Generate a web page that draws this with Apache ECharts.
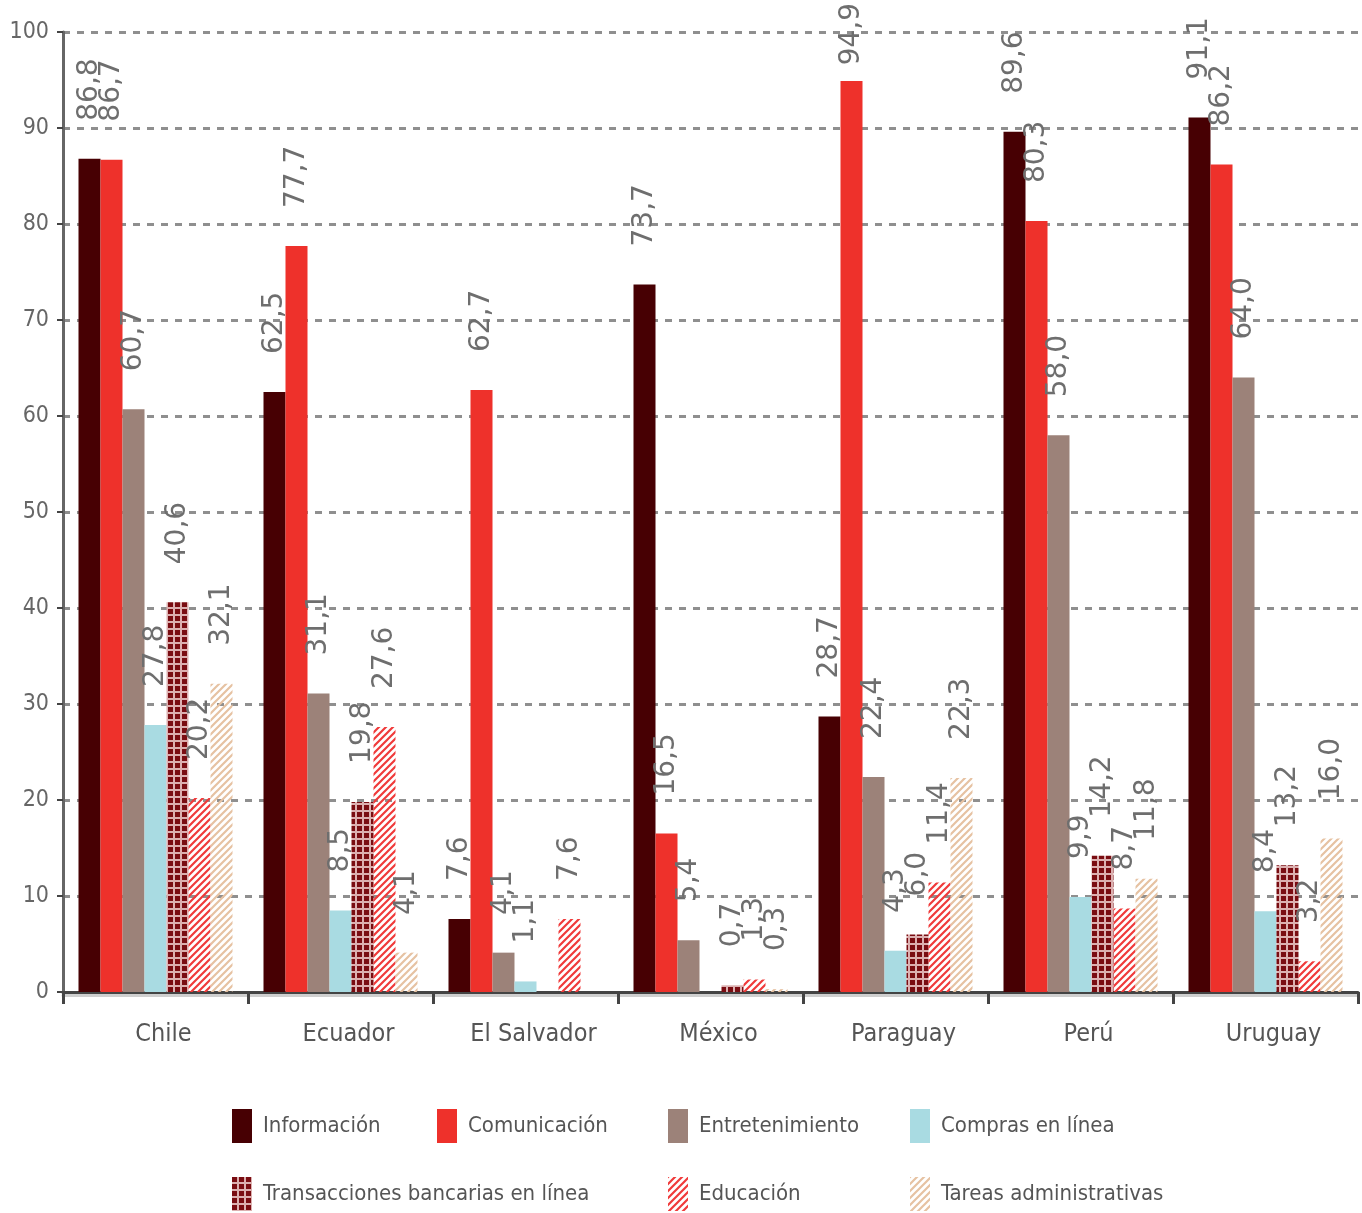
<!DOCTYPE html>
<html><head><meta charset="utf-8">
<script src="https://cdn.jsdelivr.net/npm/echarts@6/dist/echarts.min.js"></script>
<style>html,body{margin:0;padding:0;background:#fff}#c{width:1362px;height:1213px}</style>
</head><body><div id="c"></div>
<script>
const categories = ['Chile', 'Ecuador', 'El Salvador', 'México', 'Paraguay', 'Perú', 'Uruguay'];
const seriesNames = ['Información', 'Comunicación', 'Entretenimiento', 'Compras en línea',
  'Transacciones bancarias en línea', 'Educación', 'Tareas administrativas'];
const informacion     = [86.8, 62.5, 7.6, 73.7, 28.7, 89.6, 91.1];
const comunicacion    = [86.7, 77.7, 62.7, 16.5, 94.9, 80.3, 86.2];
const entretenimiento = [60.7, 31.1, 4.1, 5.4, 22.4, 58.0, 64.0];
const compras         = [27.8, 8.5, 1.1, null, 4.3, 9.9, 8.4];
const transacciones   = [40.6, 19.8, null, 0.7, 6.0, 14.2, 13.2];
const educacion       = [20.2, 27.6, 7.6, 1.3, 11.4, 8.7, 3.2];
const tareas          = [32.1, 4.1, null, 0.3, 22.3, 11.8, 16.0];
const yMin = 0, yMax = 100, yStep = 10;

function tile(size, draw) {
  const c = document.createElement('canvas'); c.width = c.height = size;
  draw(c.getContext('2d'), size); return c;
}
const checkPattern = { image: tile(7, (g, s) => {
  g.fillStyle = '#7a0d12'; g.fillRect(0, 0, s, s);
  g.fillStyle = '#dcb0b0'; g.fillRect(5, 0, 2, s); g.fillRect(0, 5, s, 2);
}), repeat: 'repeat' };
function stripes(color, w) {
  return { image: tile(7, (g, s) => {
    g.strokeStyle = color; g.lineWidth = w; g.beginPath();
    g.moveTo(-2, s + 2); g.lineTo(s + 2, -2);
    g.moveTo(-2, 2); g.lineTo(2, -2);
    g.moveTo(s - 2, s + 2); g.lineTo(s + 2, s - 2);
    g.stroke();
  }), repeat: 'repeat' };
}
const colors = ['#470003', '#ee312b', '#9c8279', '#a9dbe2', checkPattern,
  stripes('#f03a3a', 2.2), stripes('#e6c2a2', 2.2)];
const values = [informacion, comunicacion, entretenimiento, compras, transacciones, educacion, tareas];

const narrow = '"DejaVu Sans Condensed", "Liberation Sans Narrow", sans-serif';
const labelFont = 28, labelDist = 38;
const fmt = v => v == null ? '' : v.toFixed(1).replace('.', ',');

function buildSeries(overrides) {
  return values.map((arr, s) => ({
    name: seriesNames[s], type: 'bar', barWidth: 22, barGap: '0%',
    itemStyle: { color: colors[s] },
    label: { show: true, position: 'top', distance: labelDist, rotate: 90,
      align: 'left', verticalAlign: 'middle', fontFamily: '"DejaVu Sans", sans-serif',
      fontSize: labelFont, color: '#6e6e6e', formatter: p => fmt(p.value) },
    data: arr.map((v, i) => {
      const d = overrides && overrides[s + '_' + i];
      return d != null ? { value: v, label: { distance: d } } : v;
    })
  }));
}

const legendPos = [[227, 1104], [432, 1104], [663, 1104], [905, 1104], [227, 1172], [663, 1172], [905, 1172]];
const legends = seriesNames.map((n, i) => ({
  data: [n], left: legendPos[i][0], top: legendPos[i][1], icon: 'rect',
  itemWidth: 20, itemHeight: 34, selectedMode: false,
  textStyle: { fontFamily: narrow, fontSize: 22, color: '#555', padding: [0, 0, 0, 6] }
}));

const chart = echarts.init(document.getElementById('c'), null, { renderer: 'canvas' });
const option = {
  animation: false,
  backgroundColor: '#fff',
  grid: { left: 63, right: 4, top: 32, bottom: 221 },
  legend: legends,
  xAxis: { type: 'category', data: categories,
    axisLine: { lineStyle: { color: '#444', width: 3, shadowColor: '#cfcfcf', shadowOffsetY: 3, shadowBlur: 0 } },
    axisTick: { show: true, length: 12, alignWithLabel: false, lineStyle: { color: '#444', width: 3 } },
    axisLabel: { interval: 0, fontFamily: narrow, fontSize: 25, color: '#555', margin: 30, padding: [0, 0, 0, 16] } },
  yAxis: { type: 'value', min: yMin, max: yMax, interval: yStep,
    axisLine: { show: true, lineStyle: { color: '#666', width: 3 } },
    axisTick: { show: true, length: 6, lineStyle: { color: '#444', width: 2 } },
    axisLabel: { fontFamily: narrow, fontSize: 23, color: '#666', margin: 14 },
    splitLine: { show: true, lineStyle: { type: [7, 7], color: '#8f8f8f', width: 3 } } },
  series: buildSeries(null)
};
chart.setOption(option);

// keep labels inside the canvas (the top one is pushed down in the reference)
const ctx = document.createElement('canvas').getContext('2d');
ctx.font = labelFont + 'px "DejaVu Sans"';
const overrides = {};
values.forEach((arr, s) => arr.forEach((v, i) => {
  if (v == null) return;
  const y = chart.convertToPixel({ seriesIndex: s }, [i, v])[1];
  const w = ctx.measureText(fmt(v)).width;
  if (y - labelDist - w < 3) overrides[s + '_' + i] = Math.max(2, y - w - 3);
}));
chart.setOption({ series: buildSeries(overrides) });
</script></body></html>
